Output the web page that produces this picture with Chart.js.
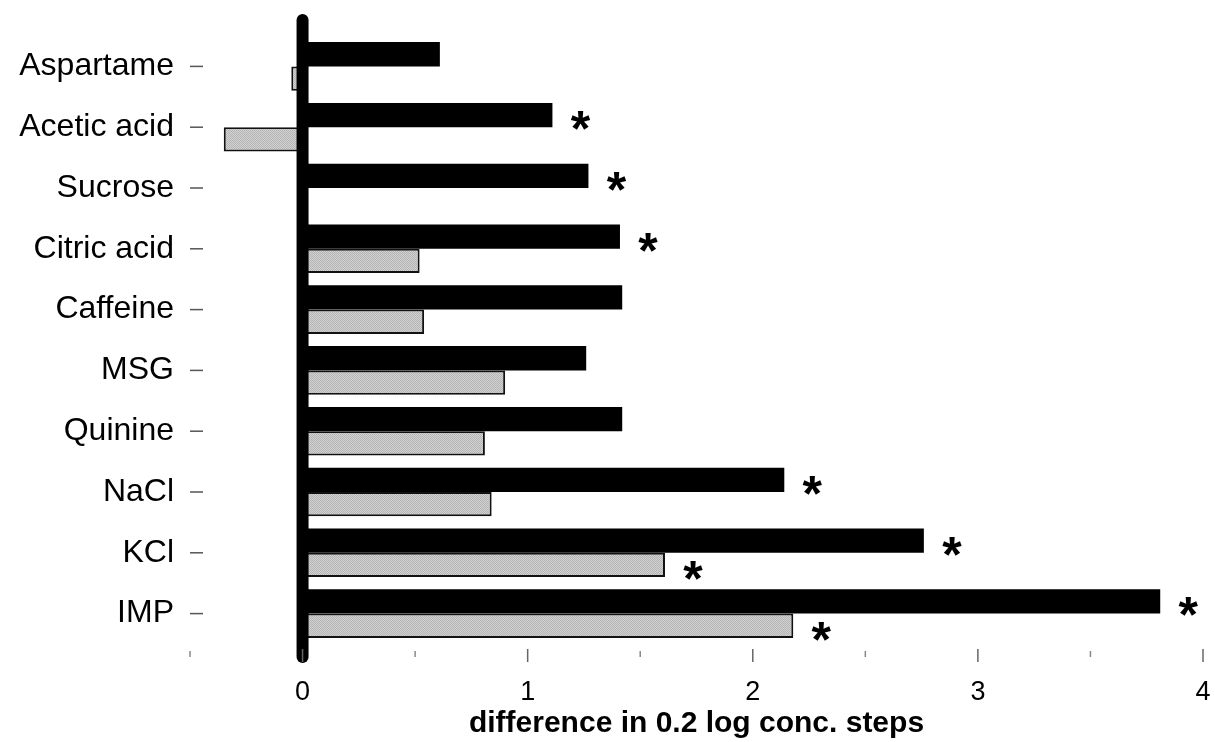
<!DOCTYPE html>
<html lang="en">
<head>
    <meta charset="UTF-8">
    <title>difference in 0.2 log conc. steps</title>
    <script src="https://cdn.jsdelivr.net/npm/chart.js"></script>
    <style>
        html, body { margin: 0; padding: 0; background: #fff; }
        #wrap { width: 1215px; height: 742px; }
    </style>
</head>
<body>
    <div id="wrap"><canvas id="myChart"></canvas></div>

    <script>
        // data
        const tastes = ['Aspartame', 'Acetic acid', 'Sucrose', 'Citric acid', 'Caffeine',
                        'MSG', 'Quinine', 'NaCl', 'KCl', 'IMP'];
        const blackValues = [0.61, 1.11, 1.27, 1.41, 1.42, 1.26, 1.42, 2.14, 2.76, 3.81];
        const grayValues  = [-0.05, -0.35, 0, 0.52, 0.54, 0.90, 0.81, 0.84, 1.61, 2.18];
        const blackSig = [false, true, true, true, false, false, false, true, true, true];
        const graySig  = [false, false, false, false, false, false, false, false, true, true];
        const xTickLabels = ['0', '1', '2', '3', '4'];

        const FONT = "'Liberation Sans', Arial, sans-serif";

        // dotted gray fill
        const pc = document.createElement('canvas');
        pc.width = 2; pc.height = 2;
        const pctx = pc.getContext('2d');
        pctx.fillStyle = '#d2d2d2';
        pctx.fillRect(0, 0, 2, 2);
        pctx.fillStyle = '#b4b4b4';
        pctx.fillRect(0, 0, 1, 1);
        pctx.fillRect(1, 1, 1, 1);
        const grayPattern = pctx.createPattern(pc, 'repeat');

        const extras = {
            id: 'extras',
            afterDatasetsDraw(chart) {
                const ctx = chart.ctx;
                const x = chart.scales.x;
                const y = chart.scales.y;
                const area = chart.chartArea;
                ctx.save();

                // thick zero line
                const x0 = x.getPixelForValue(0);
                ctx.strokeStyle = '#000';
                ctx.lineWidth = 12;
                ctx.lineCap = 'round';
                ctx.beginPath();
                ctx.moveTo(x0, area.top - 16);
                ctx.lineTo(x0, area.bottom + 13);
                ctx.stroke();

                // short dashes next to category labels
                ctx.lineCap = 'butt';
                ctx.lineWidth = 1.5;
                ctx.strokeStyle = '#555';
                y.ticks.forEach((t, i) => {
                    const py = y.getPixelForTick(i);
                    ctx.beginPath();
                    ctx.moveTo(area.left, py);
                    ctx.lineTo(area.left + 13, py);
                    ctx.stroke();
                });

                // x tick marks
                x.ticks.forEach((t, i) => {
                    const px = x.getPixelForTick(i);
                    const major = Number.isInteger(t.value);
                    ctx.lineWidth = 1.5;
                    ctx.strokeStyle = major ? '#666' : '#888';
                    ctx.beginPath();
                    ctx.moveTo(px, area.bottom + (major ? 5 : 7));
                    ctx.lineTo(px, area.bottom + (major ? 18 : 13));
                    ctx.stroke();
                });

                // significance asterisks
                ctx.fillStyle = '#000';
                ctx.font = 'bold 50px ' + FONT;
                ctx.textAlign = 'center';
                ctx.textBaseline = 'alphabetic';
                [blackSig, graySig].forEach((sig, d) => {
                    const meta = chart.getDatasetMeta(d);
                    sig.forEach((s, i) => {
                        if (!s) return;
                        const bar = meta.data[i];
                        ctx.fillText('*', bar.x + 28, bar.y + 31);
                    });
                });
                ctx.restore();
            }
        };

        const ctx = document.getElementById('myChart').getContext('2d');
        const myChart = new Chart(ctx, {
            type: 'bar',
            data: {
                labels: tastes,
                datasets: [{
                    data: blackValues,
                    backgroundColor: '#000',
                    borderWidth: 0
                }, {
                    data: grayValues,
                    backgroundColor: grayPattern,
                    borderColor: '#111',
                    borderWidth: 2,
                    borderSkipped: false
                }]
            },
            options: {
                indexAxis: 'y',
                responsive: true,
                maintainAspectRatio: false,
                animation: false,
                categoryPercentage: 0.8,
                barPercentage: 1.0,
                layout: { padding: { top: 36, right: 12, left: 0, bottom: 0 } },
                plugins: {
                    legend: { display: false },
                    tooltip: { enabled: false }
                },
                scales: {
                    x: {
                        min: -0.5,
                        max: 4,
                        afterFit(scale) {
                            scale.height = 98;
                            scale.paddingLeft = 0;
                            scale.paddingRight = 0;
                        },
                        border: { display: false },
                        grid: { display: true, drawOnChartArea: false, tickLength: 18, tickColor: 'rgba(0,0,0,0)' },
                        ticks: {
                            stepSize: 0.5,
                            autoSkip: false,
                            maxRotation: 0,
                            padding: 14,
                            color: '#000',
                            font: { family: FONT, size: 27 },
                            callback: (v) => Number.isInteger(v) && v >= 0 ? xTickLabels[v] : ''
                        },
                        title: {
                            display: true,
                            text: 'difference in 0.2 log conc. steps',
                            color: '#000',
                            font: { family: FONT, size: 30, weight: 'bold' },
                            padding: { top: 0, bottom: 0 }
                        }
                    },
                    y: {
                        afterFit(scale) { scale.width = 190; },
                        border: { display: false },
                        grid: { display: false },
                        ticks: {
                            padding: 8,
                            color: '#000',
                            font: { family: FONT, size: 32 }
                        }
                    }
                }
            },
            plugins: [extras]
        });
    </script>
</body>
</html>
